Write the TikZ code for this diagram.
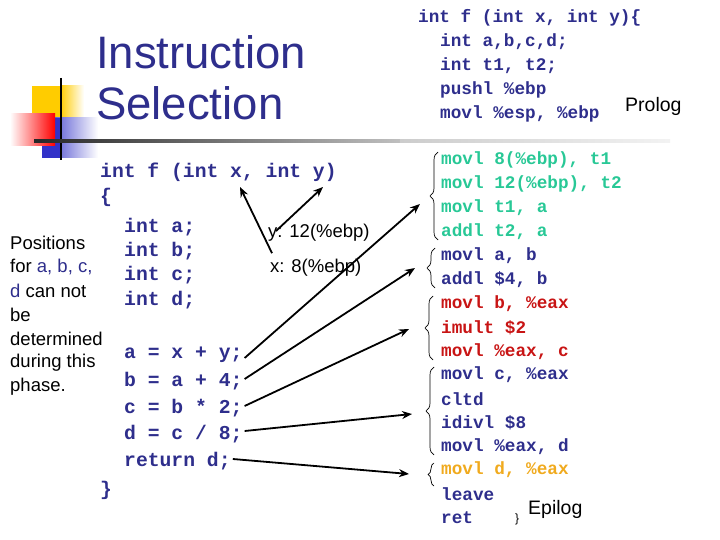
\documentclass[tikz,border=0pt]{standalone}
\usepackage{fontspec}
\setmainfont{Liberation Sans}
\newfontfamily\codef{Liberation Mono}
\usetikzlibrary{decorations.pathreplacing,arrows.meta}
\definecolor{dblue}{RGB}{46,46,140}
\definecolor{teal2}{RGB}{40,200,150}
\definecolor{red2}{RGB}{200,20,20}
\definecolor{orange2}{RGB}{240,170,30}
\definecolor{yel}{RGB}{255,204,0}
\definecolor{blu}{RGB}{50,50,200}
\begin{document}
\begin{tikzpicture}[x=1pt,y=-1pt,
  lc/.style={anchor=west,inner sep=0pt,font=\codef\bfseries\fontsize{19.7}{19.7}\selectfont,text=dblue},
  rc/.style={anchor=west,inner sep=0pt,font=\codef\bfseries\fontsize{17.7}{17.7}\selectfont,text=dblue},
  lab/.style={anchor=west,inner sep=0pt,font=\fontsize{18.5}{18.5}\selectfont},
  arr/.style={-{Stealth[length=10pt,width=8pt]},line width=1.8pt},
  brc/.style={decorate,decoration={brace,amplitude=8pt,mirror},line width=0.7pt}]
\useasboundingbox (0,0) rectangle (720,540);
% decoration
\fill[yel] (32,86) rectangle (80,118);
\shade[left color=yel,right color=white] (60,86) rectangle (84,118);
\shade[left color=blu,right color=white] (42,118) rectangle (98,158);
\fill[blu] (42,118) rectangle (62,158);
\shade[left color=white,right color=red] (10,114) rectangle (55,146);
\draw[line width=2pt] (61,78) -- (61,160);
\shade[left color=black!85,right color=black!25] (34,140) rectangle (400,143);
\shade[left color=black!20,right color=black!5] (400,140) rectangle (670,143);
% title
\node[anchor=west,inner sep=0pt,text=dblue,font=\fontsize{45.5}{45.5}\selectfont] (t1) at (96,52) {Instruction};
\node[anchor=west,inner sep=0pt,text=dblue,font=\fontsize{45.5}{45.5}\selectfont] (t2) at (96,103) {Selection};
% left code
\node[lc] (l0) at (100,172) {int f (int x, int y)};
\node[lc] (l1) at (100,197) {\{};
\node[lc] (la) at (124,227) {int a;};
\node[lc] (lb) at (124,251) {int b;};
\node[lc] (lc1) at (124,275) {int c;};
\node[lc] (ld) at (124,300) {int d;};
\node[lc] (s1) at (124,355) {a = x + y;};
\node[lc] (s2) at (124,381) {b = a + 4;};
\node[lc] (s3) at (124,408) {c = b * 2;};
\node[lc] (s4) at (124,434) {d = c / 8;};
\node[lc] (s5) at (124,461) {return d;};
\node[lc] (l9) at (100,490) {\}};
% left labels
\node[lab] (p1) at (10,243) {Positions};
\node[lab] (p2) at (10,267) {for \textcolor{dblue}{a, b, c,}};
\node[lab] (p3) at (10,291) {\textcolor{dblue}{d} can not};
\node[lab] (p4) at (10,315) {be};
\node[lab] (p5) at (10,339) {determined};
\node[lab] (p6) at (10,363) {during this};
\node[lab] (p7) at (10,387) {phase.};
\node[lab] (ly) at (268,233) {y: 12(\%ebp)};
\node[lab] (lx) at (270,268) {x: 8(\%ebp)};
% right code
\node[rc] (r0) at (418,18) {int f (int x, int y)\{};
\node[rc] (r1) at (440,42) {int a,b,c,d;};
\node[rc] (r2) at (440,66) {int t1, t2;};
\node[rc] (r3) at (440,90) {pushl \%ebp};
\node[rc] (r4) at (440,114) {movl \%esp, \%ebp};
\node[lab,font=\fontsize{19.5}{19.5}\selectfont] (pro) at (625,106) {Prolog};
\node[rc,text=teal2] (g1) at (441,160) {movl 8(\%ebp), t1};
\node[rc,text=teal2] (g2) at (441,184) {movl 12(\%ebp), t2};
\node[rc,text=teal2] (g3) at (441,208) {movl t1, a};
\node[rc,text=teal2] (g4) at (441,232) {addl t2, a};
\node[rc] (g5) at (441,256) {movl a, b};
\node[rc] (g6) at (441,280) {addl \$4, b};
\node[rc,text=red2] (g7) at (441,304) {movl b, \%eax};
\node[rc,text=red2] (g8) at (441,328) {imult \$2};
\node[rc,text=red2] (g9) at (441,352) {movl \%eax, c};
\node[rc] (g10) at (441,375) {movl c, \%eax};
\node[rc] (g11) at (441,399) {cltd};
\node[rc] (g12) at (441,423) {idivl \$8};
\node[rc] (g13) at (441,447) {movl \%eax, d};
\node[rc,text=orange2] (g14) at (441,470) {movl d, \%eax};
\node[rc] (g15) at (441,494) {leave};
\node[rc] (g16) at (441,518) {ret};
\node[lab,font=\fontsize{12}{12}\selectfont] (eb) at (515,519) {\}};
\node[lab,font=\fontsize{19.5}{19.5}\selectfont] (epi) at (528,509) {Epilog};
% braces
\draw[brc] (438,152) -- (438,240) coordinate[midway] (b1);
\draw[brc] (435,248) -- (435,288) coordinate[midway] (b2);
\draw[brc] (433,296) -- (433,360) coordinate[midway] (b3);
\draw[brc] (434,367) -- (434,455) coordinate[midway] (b4);
\draw[brc,decoration={amplitude=6pt}] (434,463) -- (434,486) coordinate[midway] (b5);
% arrows
\draw[arr] (lx.north west)+(2,-6) -- (240,187);
\draw[arr] (ly.west)+(8,-2) -- (323,187);
\draw[arr] (s1.east)+(2,3) -- (420,204);
\draw[arr] (s2.east)+(2,-2) -- (415,268);
\draw[arr] (s3.east)+(2,-2) -- (409,329);
\draw[arr] (s4.east)+(2,-3) -- (412,414);
\draw[arr] (s5.east)+(2,-2) -- (409,474);
\end{tikzpicture}
\end{document}
